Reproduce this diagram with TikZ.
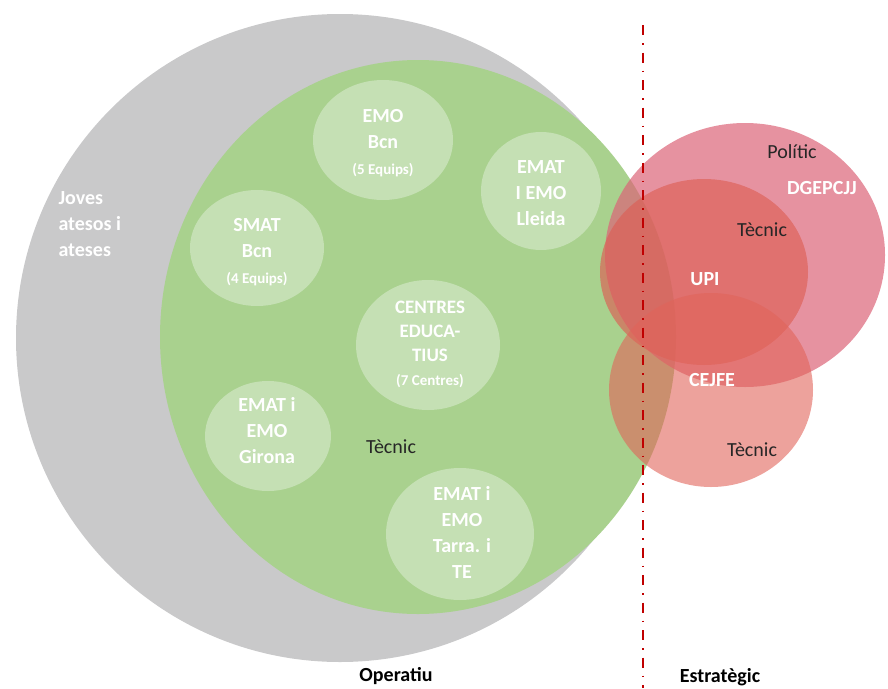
\documentclass[tikz,border=0pt]{standalone}
\usepackage{fontspec}
\setmainfont{Carlito}
\usetikzlibrary{calc}
\definecolor{greyset}{RGB}{201,201,202}
\definecolor{greenset}{RGB}{169,209,142}
\definecolor{paleset}{RGB}{197,224,180}
\definecolor{polset}{RGB}{220,100,120}
\definecolor{upiset}{RGB}{220,95,85}
\definecolor{cejset}{RGB}{225,100,90}
\definecolor{splitred}{RGB}{192,0,0}
\tikzset{team/.style = {text=white, align=center, font=\bfseries\fontsize{20}{26}\selectfont}}
\tikzset{dark/.style = {text=black!85, font=\fontsize{20}{24}\selectfont}}
\tikzset{level/.style = {text=black, font=\bfseries\fontsize{20}{24}\selectfont}}
\tikzset{hot/.style = {fill opacity=0.7}}
\newcommand{\sm}[1]{{\fontsize{15}{18}\selectfont #1}}

\begin{document}
\begin{tikzpicture}[x=1pt, y=-1pt]
\useasboundingbox (0,0) rectangle (888,688);
% sets
\fill [greyset] (340,338) circle [radius=324pt];
\fill [greenset] (418,337) ellipse [x radius=258pt, y radius=277pt];
\fill [paleset] (383,140) ellipse [x radius=70pt, y radius=60pt];
\fill [paleset] (541,191) ellipse [x radius=60pt, y radius=59pt];
\fill [paleset] (257,248) ellipse [x radius=67pt, y radius=58pt];
\fill [paleset] (428,345) ellipse [x radius=72pt, y radius=65pt];
\fill [paleset] (268,436) ellipse [x radius=63pt, y radius=55pt];
\fill [paleset] (460,534) ellipse [x radius=74pt, y radius=66pt];
\fill [polset, hot] (745,255) ellipse [x radius=140pt, y radius=132pt];
\fill [upiset, fill opacity=0.65] (704,272) ellipse [x radius=104pt, y radius=93pt];
\fill [cejset, fill opacity=0.6] (711,390) ellipse [x radius=102pt, y radius=97pt];
% border line
\coordinate (top) at (643,25);
\coordinate (foot) at (643,688);
\draw [splitred, line width=1.8pt, dash pattern=on 10pt off 8pt on 1.5pt off 8pt] (top) -- (foot);
% labels
\node [team, anchor=west, align=left] (joves) at (55,224) {Joves\\atesos i\\ateses};
\node [team] (emo) at (383,143) {EMO\\Bcn\\\sm{(5 Equips)}};
\node [team] (smat) at (257,252) {SMAT\\Bcn\\\sm{(4 Equips)}};
\node [team] (lleida) at (541,193) {EMAT\\I EMO\\Lleida};
\node [team, font=\bfseries\fontsize{19}{24}\selectfont] (centres) at (430,344) {CENTRES\\EDUCA-\\TIUS\\\sm{(7 Centres)}};
\node [team] (girona) at (267,431) {EMAT i\\EMO\\Girona};
\node [team] (tarra) at (462,532) {EMAT i\\EMO\\Tarra. i\\TE};
\node [dark] (tecop) at (391,447) {Tècnic};
\node [dark] (politic) at (792,152) {Polític};
\node [team] (dgep) at (822,188) {DGEPCJJ};
\node [dark] (tecupi) at (762,230) {Tècnic};
\node [team] (upi) at (705,279) {UPI};
\node [team] (cejfe) at (712,380) {CEJFE};
\node [dark] (teccej) at (752,450) {Tècnic};
\node [level] (oper) at (396,676) {Operatiu};
\node [level] (estr) at (720,677) {Estratègic};
\end{tikzpicture}
\end{document}
